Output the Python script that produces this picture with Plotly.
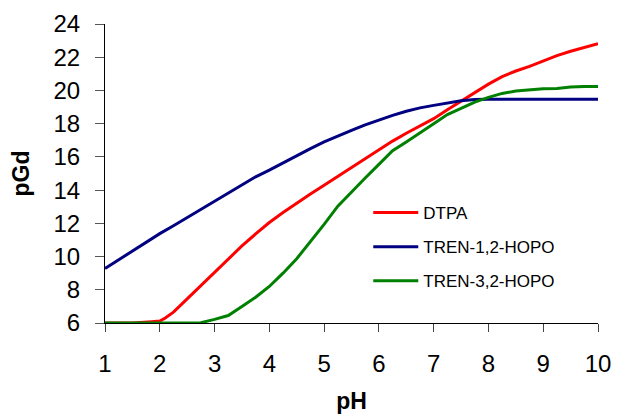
import plotly.graph_objects as go

ph_dtpa = [1.0, 1.5, 1.85, 2.0, 2.1, 2.25, 2.5, 2.75, 3.0, 3.25, 3.5, 3.75, 4.0, 4.25, 4.5, 4.75,
           5.0, 5.25, 5.5, 5.75, 6.0, 6.25, 6.5, 6.75, 7.0, 7.25, 7.5, 7.75, 8.0, 8.25, 8.5,
           8.75, 9.0, 9.25, 9.5, 9.75, 10.0]
pgd_dtpa = [6.0, 6.0, 6.08, 6.12, 6.3, 6.65, 7.45, 8.25, 9.02, 9.85, 10.64, 11.36, 12.05, 12.65,
            13.22, 13.76, 14.3, 14.83, 15.37, 15.9, 16.42, 16.95, 17.42, 17.85, 18.3, 18.84,
            19.35, 19.87, 20.38, 20.83, 21.17, 21.45, 21.78, 22.1, 22.36, 22.6, 22.82]

ph_tren12 = [1.0, 1.25, 1.5, 1.75, 2.0, 2.25, 2.5, 2.75, 3.0, 3.25, 3.5, 3.75, 4.0, 4.25, 4.5,
             4.75, 5.0, 5.25, 5.5, 5.75, 6.0, 6.25, 6.5, 6.75, 7.0, 7.25, 7.5, 7.75, 8.0, 9.0, 10.0]
pgd_tren12 = [9.28, 9.8, 10.32, 10.88, 11.38, 11.85, 12.35, 12.85, 13.32, 13.82, 14.35, 14.8,
              15.2, 15.65, 16.05, 16.5, 16.9, 17.27, 17.6, 17.93, 18.22, 18.5, 18.75, 18.95,
              19.1, 19.25, 19.38, 19.45, 19.47, 19.47, 19.47]

ph_tren32 = [1.0, 2.0, 2.75, 3.0, 3.25, 3.5, 3.75, 4.0, 4.25, 4.5, 4.75, 5.0, 5.25, 5.5, 5.75,
             6.0, 6.25, 6.5, 6.75, 7.0, 7.25, 7.5, 7.75, 8.0, 8.25, 8.5, 8.75, 9.0, 9.25, 9.5,
             9.75, 10.0]
pgd_tren32 = [6.0, 6.0, 6.02, 6.22, 6.45, 7.0, 7.55, 8.2, 9.0, 9.87, 10.9, 11.94, 13.03, 13.9,
              14.73, 15.55, 16.37, 16.9, 17.47, 18.0, 18.55, 18.93, 19.3, 19.58, 19.82, 19.96,
              20.05, 20.1, 20.12, 20.2, 20.23, 20.23]

x_ticks = [1, 2, 3, 4, 5, 6, 7, 8, 9, 10]
y_ticks = [6, 8, 10, 12, 14, 16, 18, 20, 22, 24]

FONT = "Arial, Liberation Sans, sans-serif"

fig = go.Figure()
fig.add_trace(go.Scatter(x=ph_dtpa, y=pgd_dtpa, mode="lines", name="DTPA",
                         line=dict(color="#FF0000", width=3), legendgroup="a"))
fig.add_trace(go.Scatter(x=ph_tren12, y=pgd_tren12, mode="lines", name="TREN-1,2-HOPO",
                         line=dict(color="#000080", width=3), legendgroup="b"))
fig.add_trace(go.Scatter(x=ph_tren32, y=pgd_tren32, mode="lines", name="TREN-3,2-HOPO",
                         line=dict(color="#008000", width=3), legendgroup="c"))

fig.update_layout(
    width=618, height=420,
    margin=dict(l=105, r=20, t=24, b=97),
    paper_bgcolor="white", plot_bgcolor="white",
    font=dict(family=FONT, color="black"),
    legend=dict(x=0.534, y=0.254, xanchor="left", yanchor="middle",
                font=dict(size=17, family=FONT), tracegroupgap=9,
                bgcolor="rgba(0,0,0,0)", itemwidth=45),
    xaxis=dict(range=[1, 10], tickvals=x_ticks, ticktext=[str(v) for v in x_ticks],
               automargin=False,
               showgrid=False, zeroline=False, showline=True, linecolor="black", linewidth=1,
               ticks="outside", ticklen=8, tickcolor="#444", tickwidth=1,
               tickfont=dict(size=24, family=FONT), ticklabelstandoff=11,
               title=dict(text="<b>pH</b>", font=dict(size=23, family=FONT), standoff=17)),
    yaxis=dict(range=[6, 24], tickvals=y_ticks, ticktext=[str(v) for v in y_ticks],
               automargin=False,
               showgrid=False, zeroline=False, showline=True, linecolor="black", linewidth=1,
               ticks="outside", ticklen=9, tickcolor="#555", tickwidth=1,
               tickfont=dict(size=24, family=FONT), ticklabelstandoff=10,
               title=dict(text="<b>pGd</b>", font=dict(size=23, family=FONT), standoff=17)),
)

fig.write_html("out.html")
